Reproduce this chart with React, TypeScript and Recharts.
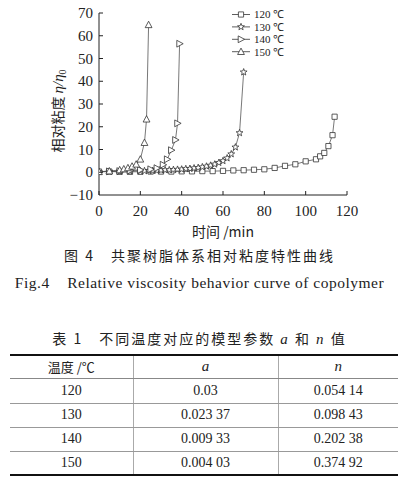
import React from 'react';
import { LineChart, Line, XAxis, YAxis, Label } from 'recharts';

const time120 = [0, 5, 10, 15, 20, 25, 30, 35, 40, 45, 50, 55, 60, 65, 70, 75, 80, 85, 90, 95, 100, 105, 107, 109, 111, 113, 114];
const visc120 = [0.3, 0.3, 0.2, 0.2, 0.2, 0.3, 0.3, 0.3, 0.4, 0.4, 0.5, 0.5, 0.6, 0.8, 0.9, 1.1, 1.3, 1.9, 2.8, 3.5, 4.8, 5.7, 7, 8.5, 11.5, 16.3, 24.4];

const time130 = [0, 5, 10, 15, 20, 22, 24, 26, 28, 30, 32, 34, 36, 38, 40, 42, 44, 46, 48, 50, 52, 54, 56, 58, 60, 62, 64, 66, 68, 70];
const visc130 = [0.2, 0.3, 0.4, 0.5, 0.6, 0.6, 0.7, 0.7, 0.8, 0.9, 1.0, 1.0, 1.1, 1.2, 1.3, 1.5, 1.6, 1.8, 2.0, 2.3, 2.6, 3.0, 3.5, 4.2, 5.0, 6.2, 8.0, 11, 17.3, 44];

const time140 = [0, 5, 10, 15, 20, 25, 28, 31, 33, 35, 37, 38, 39];
const visc140 = [0.3, 0.4, 0.5, 0.7, 1.0, 1.3, 1.8, 3.3, 5.7, 9.7, 14.2, 21.5, 56.5];

const time150 = [0, 5, 10, 12, 14, 16, 18, 20, 22, 23, 24];
const visc150 = [0.2, 0.5, 1.0, 1.4, 1.9, 2.6, 3.5, 5.7, 13, 23.3, 64.8];

const seriesNames = ['120 ℃', '130 ℃', '140 ℃', '150 ℃'];
const xTicks = [0, 20, 40, 60, 80, 100, 120];
const yTicks = [-10, 0, 10, 20, 30, 40, 50, 60, 70];

const tableHeader = ['温度 /℃', 'a', 'n'];
const tableTemps = ['120', '130', '140', '150'];
const tableA = ['0.03', '0.023 37', '0.009 33', '0.004 03'];
const tableN = ['0.054 14', '0.098 43', '0.202 38', '0.374 92'];

const toData = (t: number[], v: number[]) => t.map((x, i) => ({ t: x, v: v[i] }));
const seriesData = [
  toData(time120, visc120),
  toData(time130, visc130),
  toData(time140, visc140),
  toData(time150, visc150),
];
const markers = ['square', 'star', 'right', 'up'];

const STROKE = '#333';
const AXIS_X = 99;

function markerPath(kind: string, cx: number, cy: number): string {
  if (kind === 'square') {
    const s = 2.6;
    return `M${cx - s},${cy - s}L${cx + s},${cy - s}L${cx + s},${cy + s}L${cx - s},${cy + s}Z`;
  }
  if (kind === 'right') {
    return `M${cx + 3.6},${cy}L${cx - 2.8},${cy - 3.4}L${cx - 2.8},${cy + 3.4}Z`;
  }
  if (kind === 'up') {
    return `M${cx},${cy - 3.6}L${cx - 3.4},${cy + 2.8}L${cx + 3.4},${cy + 2.8}Z`;
  }
  const pts: string[] = [];
  for (let i = 0; i < 10; i++) {
    const r = i % 2 === 0 ? 3.6 : 1.5;
    const a = -Math.PI / 2 + (i * Math.PI) / 5;
    pts.push(`${cx + r * Math.cos(a)},${cy + r * Math.sin(a)}`);
  }
  return 'M' + pts.join('L') + 'Z';
}

const makeDot = (kind: string) => (props: any) => {
  const { cx, cy, index } = props;
  if (cx == null || cy == null) return <g key={`${kind}-${index}`} />;
  return (
    <path key={`${kind}-${index}`} d={markerPath(kind, cx, cy)} fill="#fff" stroke={STROKE} strokeWidth={0.8} />
  );
};

const LegendBox = () => (
  <svg width={70} height={54} style={{ position: 'absolute', left: 230, top: 8 }}>
    {seriesNames.map((name, i) => {
      const y = 6.5 + i * 12.4;
      return (
        <g key={name}>
          <line x1={2} x2={20} y1={y} y2={y} stroke={STROKE} strokeWidth={0.8} />
          <path d={markerPath(markers[i], 11, y)} fill="#fff" stroke={STROKE} strokeWidth={0.8} />
          <text x={24} y={y + 3.8} fontFamily="Liberation Serif" fontSize={11} fill="#222">
            {name}
          </text>
        </g>
      );
    })}
  </svg>
);

const tickStyle = { fontFamily: 'Liberation Serif', fontSize: 15, fill: '#222' };
const fmtY = (v: number) => (v < 0 ? `−${Math.abs(v)}` : String(v));

const YTick = (props: any) => {
  const { y, payload } = props;
  const v = Number(payload.value);
  if (v === yTicks[0]) return <g />;
  return (
    <g>
      <line x1={AXIS_X} x2={AXIS_X + 4} y1={y} y2={y} stroke="#222" />
      <text x={AXIS_X - 6} y={y} dy={5} textAnchor="end" fontFamily="Liberation Serif" fontSize={15} fill="#222">
        {fmtY(v)}
      </text>
    </g>
  );
};

export default function App() {
  const cellBase: React.CSSProperties = {
    textAlign: 'center',
    padding: 0,
    fontFamily: 'Liberation Serif',
    fontSize: 14,
    color: '#222',
  };
  const rowHeights = [23, 25, 24, 24, 24];
  return (
    <div style={{ position: 'absolute', left: 0, top: 0, width: 399, height: 479, background: '#fff', overflow: 'hidden' }}>
      <LineChart width={399} height={245} margin={{ top: 13, right: 52, bottom: 20, left: 59 }}>
        <XAxis
          type="number"
          dataKey="t"
          domain={[0, 120]}
          ticks={xTicks}
          tickSize={-4}
          tickMargin={14}
          height={30}
          tick={tickStyle}
          stroke="#222"
          tickLine={{ stroke: '#222' }}
          interval={0}
          allowDataOverflow
        >
          <Label
            content={() => (
              <text x={223} y={237} textAnchor="middle" fontFamily="Noto Sans CJK SC" fontSize={14} fill="#222">
                时间 /min
              </text>
            )}
          />
        </XAxis>
        <YAxis
          type="number"
          domain={[-10, 70]}
          ticks={yTicks}
          tickLine={false}
          width={40}
          tick={<YTick />}
          stroke="#222"
          interval={0}
          allowDataOverflow
        >
          <Label
            content={(p: any) => {
              const vb = p.viewBox || { x: 59, y: 13, width: 40, height: 182 };
              const bottom = vb.y + vb.height;
              return (
                <g>
                  <text
                    x={AXIS_X - 6}
                    y={bottom}
                    dy={5}
                    textAnchor="end"
                    fontFamily="Liberation Serif"
                    fontSize={15}
                    fill="#222"
                  >
                    {fmtY(yTicks[0])}
                  </text>
                  <text
                    x={0}
                    y={0}
                    transform="translate(63,111) rotate(-90)"
                    textAnchor="middle"
                    fontFamily="Noto Sans CJK SC"
                    fontSize={14}
                    fill="#222"
                  >
                    相对粘度{' '}
                    <tspan fontFamily="Liberation Serif" fontStyle="italic" fontSize={15}>η/η</tspan>
                    <tspan fontFamily="Liberation Serif" fontSize={10} dy={3}>0</tspan>
                  </text>
                </g>
              );
            }}
          />
        </YAxis>
        {seriesData.map((d, i) => (
          <Line
            key={seriesNames[i]}
            name={seriesNames[i]}
            data={d}
            dataKey="v"
            type="linear"
            stroke="#555"
            strokeWidth={0.8}
            dot={makeDot(markers[i])}
            isAnimationActive={false}
          />
        ))}
      </LineChart>
      <LegendBox />

      <div
        style={{
          position: 'absolute', left: 0, top: 245, width: 399, textAlign: 'center',
          fontFamily: 'Noto Sans CJK SC', fontSize: 14, letterSpacing: 2, color: '#222', lineHeight: '20px',
        }}
      >
        图 4　共聚树脂体系相对粘度特性曲线
      </div>
      <div
        style={{
          position: 'absolute', left: 0, top: 273, width: 399, textAlign: 'center',
          fontFamily: 'Liberation Serif', fontSize: 15.5, letterSpacing: 0.5, color: '#222', lineHeight: '20px', whiteSpace: 'pre',
        }}
      >
        Fig.4    Relative viscosity behavior curve of copolymer
      </div>
      <div
        style={{
          position: 'absolute', left: 0, top: 328, width: 399, textAlign: 'center',
          fontFamily: 'Noto Sans CJK SC', fontSize: 14, letterSpacing: 2, color: '#222', lineHeight: '20px',
        }}
      >
        表 1　不同温度对应的模型参数 <i style={{ fontFamily: 'Liberation Serif', fontSize: 15 }}>a</i> 和{' '}
        <i style={{ fontFamily: 'Liberation Serif', fontSize: 15 }}>n</i> 值
      </div>

      <table
        style={{
          position: 'absolute', left: 10, top: 354, width: 388, borderCollapse: 'collapse',
          borderTop: '2.5px solid #111', borderBottom: '2.5px solid #111', tableLayout: 'fixed',
        }}
      >
        <colgroup>
          <col style={{ width: 123 }} />
          <col style={{ width: 145 }} />
          <col style={{ width: 120 }} />
        </colgroup>
        <tbody>
          <tr style={{ height: rowHeights[0] }}>
            {tableHeader.map((h, j) => (
              <td
                key={h}
                style={{
                  ...cellBase,
                  fontFamily: j === 0 ? 'Noto Sans CJK SC' : 'Liberation Serif',
                  fontStyle: j === 0 ? 'normal' : 'italic',
                  fontSize: j === 0 ? 13 : 15,
                  borderBottom: '1px solid #888',
                  borderLeft: j > 0 ? '1px solid #aaa' : 'none',
                }}
              >
                {h}
              </td>
            ))}
          </tr>
          {tableTemps.map((temp, i) => (
            <tr key={temp} style={{ height: rowHeights[i + 1] }}>
              {[temp, tableA[i], tableN[i]].map((c, j) => (
                <td
                  key={j}
                  style={{
                    ...cellBase,
                    borderBottom: i < tableTemps.length - 1 ? '1px solid #999' : 'none',
                    borderLeft: j > 0 ? '1px solid #aaa' : 'none',
                  }}
                >
                  {c}
                </td>
              ))}
            </tr>
          ))}
        </tbody>
      </table>
    </div>
  );
}
